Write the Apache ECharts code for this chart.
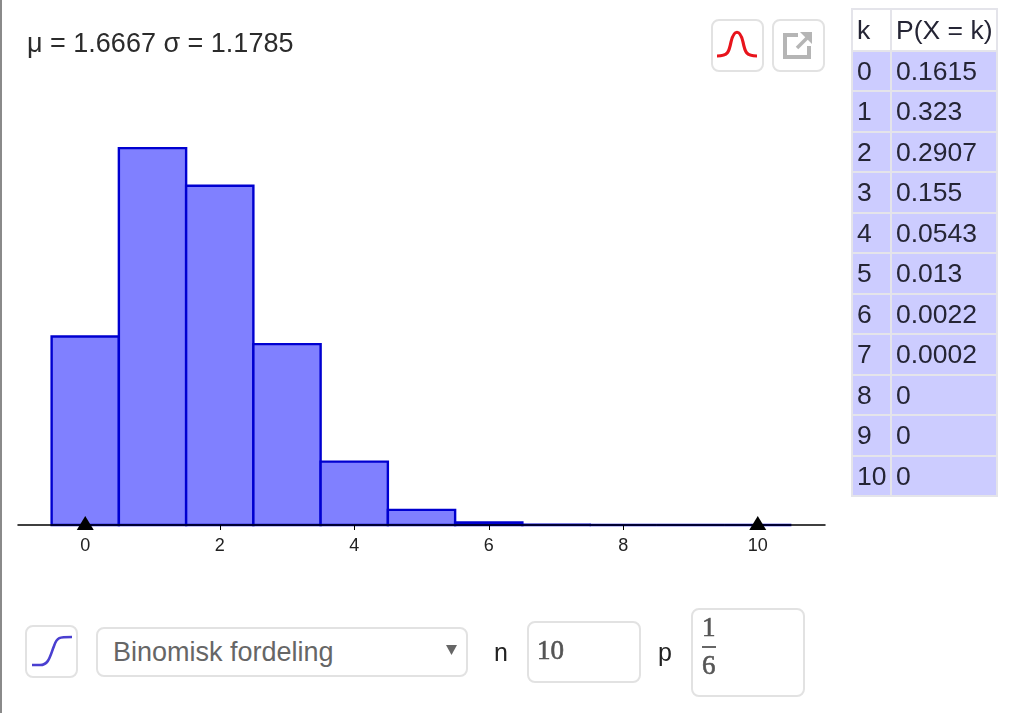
<!DOCTYPE html>
<html>
<head>
<meta charset="utf-8">
<title>Binomisk fordeling</title>
<script src="https://cdn.jsdelivr.net/npm/echarts@6/dist/echarts.min.js"></script>
<style>
	html, body { margin: 0; padding: 0; background: #fff; }
	body { width: 1024px; height: 713px; position: relative; overflow: hidden; font-family: "Liberation Sans", Arial, sans-serif; }
	#chart { position: absolute; left: 0; top: 0; width: 1024px; height: 713px; }
	#edge { position: absolute; left: 0; top: 0; width: 2px; height: 713px; background: #8a8a8a; }
	#probTable { position: absolute; left: 851px; top: 8px; width: 147px; border-collapse: collapse; font-size: 26.5px; color: #252535; table-layout: fixed; }
	#probTable td { height: 38.5px; padding: 1px 0 0 4px; box-sizing: content-box; border: 2px solid #e4e4ea; line-height: 26px; white-space: nowrap; overflow: hidden; }
	#probTable tr.row td { background: #ccccff; padding-top: 0; }
	#probTable .k { width: 33px; }
	.box { position: absolute; box-sizing: border-box; background: #fff; border: 2px solid #e2e2e2; border-radius: 8px; }
	.lab { position: absolute; font-size: 25px; color: #222; }
	.num { position: absolute; font-family: "Liberation Serif", serif; font-size: 27px; color: #555; -webkit-text-stroke: 0.6px #555; }
</style>
</head>
<body>
<div id="chart"></div>
<div id="edge"></div>
<table id="probTable"></table>

<div class="box" style="left:711px;top:19px;width:53px;height:53px;">
	<svg width="49" height="49"><path d="M4 35 C15 35 16 31 18 21 C21 8 27 8 30 21 C32 31 33 35 44 35" fill="none" stroke="#e8141c" stroke-width="3.2"/></svg>
</div>
<div class="box" style="left:772px;top:19px;width:53px;height:53px;">
	<svg width="49" height="49"><path d="M24 14 H11 V36 H35 V25" fill="none" stroke="#b5b5b5" stroke-width="4"/><path d="M23 27 L33 17" fill="none" stroke="#b5b5b5" stroke-width="3.5"/><path d="M26 11 H38 V23 Z" fill="#b5b5b5"/></svg>
</div>
<div class="box" style="left:25px;top:625px;width:53px;height:53px;">
	<svg width="49" height="49"><path d="M5 38 H13 C22 38 23 29 27 19 C30 10 32 10 45 10" fill="none" stroke="#4a3fd0" stroke-width="2.6"/></svg>
</div>
<div class="box" style="left:96px;top:627px;width:372px;height:50px;">
	<span style="position:absolute;left:15px;top:8px;font-size:27px;color:#666;white-space:nowrap;">Binomisk fordeling</span>
	<svg style="position:absolute;left:348px;top:16px;" width="12" height="12"><path d="M0 0 H11 L5.5 10 Z" fill="#666"/></svg>
</div>
<div class="lab" style="left:494px;top:638px;">n</div>
<div class="box" style="left:527px;top:621px;width:114px;height:62px;"></div>
<div class="num" style="left:537px;top:635px;">10</div>
<div class="lab" style="left:658px;top:638px;">p</div>
<div class="box" style="left:691px;top:608px;width:114px;height:89px;"></div>
<div class="num" style="left:702px;top:612px;">1</div>
<div style="position:absolute;left:702px;top:646px;width:14px;height:2px;background:#666;"></div>
<div class="num" style="left:702px;top:650px;">6</div>

<script type="text/javascript">
	var summaryText = 'μ = 1.6667 σ = 1.1785';
	var tableHead = ['k', 'P(X = k)'];
	var kValues = [0, 1, 2, 3, 4, 5, 6, 7, 8, 9, 10];
	var probValues = [0.1615, 0.323, 0.2907, 0.155, 0.0543, 0.013, 0.0022, 0.0002, 0, 0, 0];
	var xTicks = [0, 2, 4, 6, 8, 10];
	var markerValues = [0, 10];

	// tabellen til hoyre
	var html = '<tr><td class="k">' + tableHead[0] + '</td><td>' + tableHead[1] + '</td></tr>';
	for (var i = 0; i < kValues.length; i++) {
		html += '<tr class="row"><td class="k">' + kValues[i] + '</td><td>' + probValues[i] + '</td></tr>';
	}
	document.getElementById('probTable').innerHTML = html;

	var barData = [];
	for (var j = 0; j < kValues.length; j++) {
		barData.push([kValues[j], probValues[j]]);
	}
	var markerData = [];
	for (var m = 0; m < markerValues.length; m++) {
		markerData.push([markerValues[m], 0]);
	}

	var myChart = echarts.init(document.getElementById('chart'), null, { renderer: 'canvas' });
	var option = {
		animation: false,
		title: {
			text: summaryText,
			left: 22,
			top: 26,
			textStyle: { fontFamily: 'Liberation Sans', fontSize: 27, fontWeight: 'normal', color: '#2b2b2b' }
		},
		grid: { left: 18, top: 100, width: 807, height: 425 },
		xAxis: {
			type: 'value',
			min: -1,
			max: 11,
			z: 3.5,
			splitLine: { show: false },
			axisLine: { onZero: false, lineStyle: { color: '#000', width: 1.5 } },
			axisTick: { length: 5, lineStyle: { color: '#000' }, customValues: xTicks },
			axisLabel: { color: '#222', fontFamily: 'Liberation Sans', fontSize: 18, margin: 12, customValues: xTicks }
		},
		yAxis: { type: 'value', min: 0, max: 0.3642, show: false },
		series: [
			{
				type: 'custom',
				data: barData,
				clip: false,
				renderItem: function (params, api) {
					var k = api.value(0);
					var a = api.coord([k - 0.5, api.value(1)]);
					var b = api.coord([k + 0.5, 0]);
					return {
						type: 'rect',
						shape: { x: a[0], y: a[1], width: b[0] - a[0], height: b[1] - a[1] },
						style: { fill: '#8080ff', stroke: '#0000d0', lineWidth: 2.4 }
					};
				},
				z: 3
			},
			{
				type: 'scatter',
				data: markerData,
				symbol: 'triangle',
				symbolSize: [17, 14],
				symbolOffset: [0, -2],
				clip: false,
				itemStyle: { color: '#000', opacity: 1 },
				z: 4
			}
		]
	};
	myChart.setOption(option);
</script>
</body>
</html>
